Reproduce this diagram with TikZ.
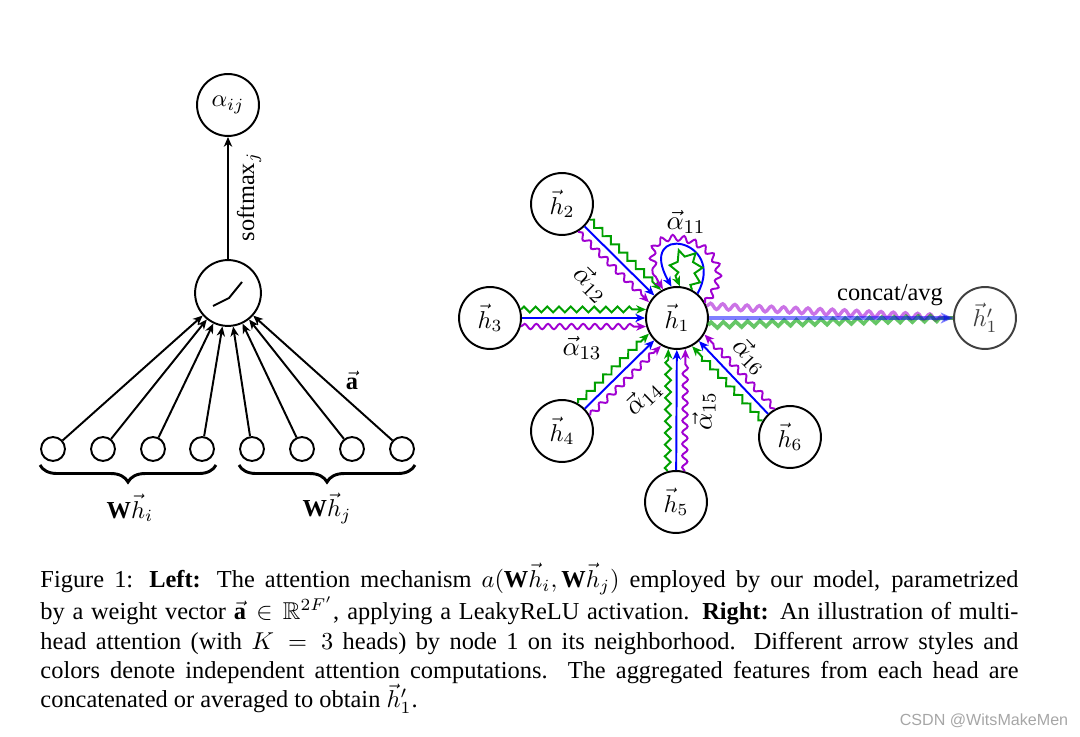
\documentclass[tikz,border=0pt]{standalone}
\usepackage{amssymb}
\usepackage{fontspec}
\setmainfont{Liberation Serif}
\newfontfamily\wmfont{Liberation Sans}
\usetikzlibrary{calc,decorations.pathmorphing,decorations.pathreplacing,arrows.meta}
\definecolor{gblue}{RGB}{0,0,255}
\definecolor{ggreen}{RGB}{0,160,0}
\definecolor{gpurple}{RGB}{160,0,210}
\tikzset{
  bignode/.style={circle, draw, line width=0.8pt, minimum size=25.4pt, inner sep=0pt},
  actnode/.style={circle, draw, line width=0.8pt, minimum size=27pt, inner sep=0pt},
  smallnode/.style={circle, draw, line width=0.8pt, minimum size=9.8pt, inner sep=0pt},
  arr/.style={line width=0.8pt, -{Stealth[length=4pt,width=3.4pt,inset=1.2pt]}},
  sn/.style={decorate, decoration={snake, amplitude=1.1pt, segment length=4.8pt, post length=4pt}},
  zz/.style={decorate, decoration={zigzag, amplitude=1.2pt, segment length=4.8pt, post length=4pt}},
  bracestyle/.style={decorate, decoration={brace, mirror, amplitude=7pt}, line width=1.2pt},
  lbl/.style={inner sep=0pt},
  albl/.style={inner sep=0pt, font=\fontsize{11}{13}\selectfont}
}
\begin{document}
\begin{tikzpicture}[x=0.41pt,y=-0.41pt]
\useasboundingbox (0,0) rectangle (1080,737);

% ---------- Left part ----------
\node[bignode] (aij) at (228,105) {$\alpha_{ij}$};
\node[actnode] (act) at (228,293) {};
\draw[line width=0.8pt] ($(act.center)+(-15,13)$) -- ($(act.center)+(1,5)$) -- ($(act.center)+(14,-11)$);
\foreach \k/\x in {1/53,2/103,3/153,4/202,5/252,6/302,7/352,8/402}
  \node[smallnode] (in\k) at (\x,449) {};
\foreach \k in {1,...,8}
  \draw[arr] (in\k) -- (act);
\draw[arr] (act) -- (aij);
\node[lbl, rotate=90] (smx) at (249,197) {softmax$_j$};
\node[lbl] (avec) at (352,380) {$\vec{\mathbf{a}}$};
\coordinate (b1s) at (40,465);
\coordinate (b1e) at (216,465);
\coordinate (b2s) at (239,465);
\coordinate (b2e) at (415,465);
\draw[bracestyle] (b1s) -- (b1e);
\draw[bracestyle] (b2s) -- (b2e);
\node[lbl] (whi) at (130,508) {$\mathbf{W}\vec{h}_i$};
\node[lbl] (whj) at (327,508) {$\mathbf{W}\vec{h}_j$};

% ---------- Right part ----------
\node[bignode] (h1) at (677,318) {$\vec{h}_1$};
\node[bignode] (h2) at (562,204) {$\vec{h}_2$};
\node[bignode] (h3) at (490,318) {$\vec{h}_3$};
\node[bignode] (h4) at (562,431) {$\vec{h}_4$};
\node[bignode] (h5) at (676,502) {$\vec{h}_5$};
\node[bignode] (h6) at (790,437) {$\vec{h}_6$};
\node[bignode, draw=black!75, text=black!75] (h1p) at (985,318) {$\vec{h}'_1$};

% neighbour edges
\foreach \j in {2,3,4,5,6} {
  \draw[arr, gblue] (h\j) -- (h1);
  \draw[arr, ggreen, zz] ($(h\j)!12.7pt!(h1)!3.5pt!90:(h1)$) -- ($(h1)!12.7pt!(h\j)!3.5pt!-90:(h\j)$);
  \draw[arr, gpurple, sn] ($(h\j)!12.7pt!(h1)!3.5pt!-90:(h1)$) -- ($(h1)!12.7pt!(h\j)!3.5pt!90:(h\j)$);
}

% self loops
\draw[arr, gblue] (h1.50) .. controls (728,238) and (635,222) .. (h1.100);
\draw[arr, ggreen, decorate, decoration={zigzag, amplitude=1.6pt, segment length=5.5pt, post length=4pt}]
  (h1.62) .. controls (718,246) and (655,238) .. (h1.85);
\draw[arr, gpurple, decorate, decoration={snake, amplitude=1.2pt, segment length=4.5pt, post length=4pt}]
  (h1.28) .. controls (758,240) and (608,206) .. (h1.116);

% labels
\node[albl] (a11) at (686,222) {$\vec{\alpha}_{11}$};
\node[albl, rotate=-45] (a12) at (591,284) {$\vec{\alpha}_{12}$};
\node[albl] (a13) at (582,348) {$\vec{\alpha}_{13}$};
\node[albl, rotate=44] (a14) at (643,398) {$\vec{\alpha}_{14}$};
\node[albl, rotate=90] (a15) at (704,411) {$\vec{\alpha}_{15}$};
\node[albl, rotate=-46] (a16) at (750,356) {$\vec{\alpha}_{16}$};

% output
\draw[gpurple, opacity=0.55, line width=1.4pt, decorate, decoration={snake, amplitude=1.2pt, segment length=5pt, post length=4pt}]
  (h1.22) -- (h1p.west);
\draw[ggreen, opacity=0.6, line width=1.5pt, decorate, decoration={zigzag, amplitude=1.2pt, segment length=5pt, post length=4pt}]
  (h1.-13) -- (h1p.west);
\draw[gblue, opacity=0.5, line width=2pt, -{Stealth[length=5pt,width=4.4pt,inset=1.4pt]}] (h1.east) -- (h1p.west);
\node[lbl] (cat) at (890,295) {concat/avg};

% ---------- caption ----------
\node[anchor=north west, text width=401pt, align=justify, inner sep=0pt, font=\fontsize{10}{12}\selectfont] (cap) at (40,563)
{Figure 1: \textbf{Left:} The attention mechanism $a(\mathbf{W}\vec{h}_i,\mathbf{W}\vec{h}_j)$ employed by our model, parametrized\linebreak
by a weight vector $\vec{\mathbf{a}}\in\mathbb{R}^{2F'}$, applying a LeakyReLU activation. \textbf{Right:} An illustration of multi-\linebreak
head attention (with $K=3$ heads) by node 1 on its neighborhood. Different arrow styles and\linebreak
colors denote independent attention computations. The aggregated features from each head are\linebreak
concatenated or averaged to obtain $\vec{h}'_1$.};

\node[font=\wmfont\fontsize{6.6}{8}\selectfont, text=black!35, inner sep=0pt] (wm) at (984,721) {CSDN @WitsMakeMen};
\end{tikzpicture}
\end{document}
